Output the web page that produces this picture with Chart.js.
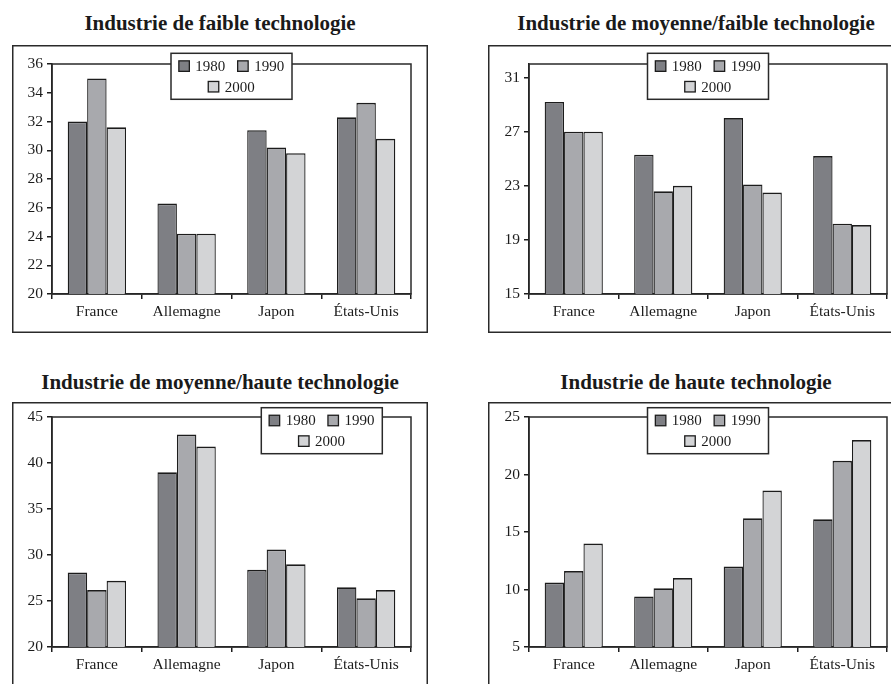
<!DOCTYPE html>
<html lang="fr">
<head>
<meta charset="utf-8">
<title>Industrie par niveau technologique</title>
<script src="https://cdn.jsdelivr.net/npm/chart.js@4.4.1/dist/chart.umd.min.js"></script>
<style>
  html, body { margin: 0; padding: 0; background: #fff; }
  body { width: 891px; height: 684px; overflow: hidden; position: relative; }
  .title {
    position: absolute; width: 416px; text-align: center;
    font-family: 'Liberation Serif', 'Times New Roman', serif;
    font-weight: bold; font-size: 21px; line-height: 24px; color: #1a1a1a;
    white-space: nowrap;
  }
  canvas { position: absolute; }
</style>
</head>
<body>
<div class="title" style="left:12px; top:11px;">Industrie de faible technologie</div>
<div class="title" style="left:488px; top:11px;">Industrie de moyenne/faible technologie</div>
<div class="title" style="left:12px; top:370px;">Industrie de moyenne/haute technologie</div>
<div class="title" style="left:488px; top:370px;">Industrie de haute technologie</div>

<canvas id="c1" width="416" height="288" style="left:12px; top:45px; width:416px; height:288px;"></canvas>
<canvas id="c2" width="416" height="288" style="left:488px; top:45px; width:416px; height:288px;"></canvas>
<canvas id="c3" width="416" height="300" style="left:12px; top:402px; width:416px; height:300px;"></canvas>
<canvas id="c4" width="416" height="300" style="left:488px; top:402px; width:416px; height:300px;"></canvas>

<script>
// Categories and series
const countries = ['France', 'Allemagne', 'Japon', 'États-Unis'];
const years = ['1980', '1990', '2000'];

// Industrie de faible technologie
const low1980 = [32.0, 26.3, 31.4, 32.3];
const low1990 = [35.0, 24.2, 30.2, 33.3];
const low2000 = [31.6, 24.2, 29.8, 30.8];
const lowTicks = [20, 22, 24, 26, 28, 30, 32, 34, 36];

// Industrie de moyenne/faible technologie
const medLow1980 = [29.2, 25.3, 28.0, 25.2];
const medLow1990 = [27.0, 22.6, 23.1, 20.2];
const medLow2000 = [27.0, 23.0, 22.5, 20.1];
const medLowTicks = [15, 19, 23, 27, 31];

// Industrie de moyenne/haute technologie
const medHigh1980 = [28.1, 39.0, 28.4, 26.5];
const medHigh1990 = [26.2, 43.1, 30.6, 25.3];
const medHigh2000 = [27.2, 41.8, 29.0, 26.2];
const medHighTicks = [20, 25, 30, 35, 40, 45];

// Industrie de haute technologie
const high1980 = [10.6, 9.4, 12.0, 16.1];
const high1990 = [11.6, 10.1, 16.2, 21.2];
const high2000 = [14.0, 11.0, 18.6, 23.0];
const highTicks = [5, 10, 15, 20, 25];

const INK = '#1c1c1c';
const FILLS = ['#7e7f84', '#a8a9ad', '#d3d4d6'];
const FONT = "'Liberation Serif', 'Times New Roman', serif";

Chart.defaults.font.family = FONT;
Chart.defaults.font.size = 15.5;
Chart.defaults.color = INK;

// Outer frame, plot-area frame and the boxed legend
const framePlugin = {
  id: 'frames',
  beforeDraw(chart, args, opts) {
    const { ctx, width, height } = chart;
    ctx.save();
    ctx.fillStyle = '#fff';
    ctx.fillRect(0, 0, width, height);
    ctx.strokeStyle = '#2a2a2a';
    ctx.lineWidth = 1.5;
    ctx.strokeRect(0.75, 0.75, width - 1.5, height - 1.5);
    ctx.restore();
  },
  beforeDatasetsDraw(chart) {
    const { ctx, chartArea: a } = chart;
    ctx.save();
    ctx.strokeStyle = '#2a2a2a';
    ctx.lineWidth = 1.5;
    ctx.strokeRect(a.left, a.top, a.right - a.left, a.bottom - a.top);
    ctx.restore();
  },
  afterDraw(chart, args, opts) {
    const { ctx, chartArea: a } = chart;
    const sets = chart.data.datasets;
    const boxW = 121, boxH = 46, sw = 10.5, gap = 6, itemGap = 12.3;
    let left;
    if (opts.align === 'right') left = a.right - opts.inset - boxW;
    else left = (a.left + a.right) / 2 - boxW / 2;
    const top = a.top - opts.raise;
    ctx.save();
    ctx.fillStyle = '#fff';
    ctx.fillRect(left, top, boxW, boxH);
    ctx.strokeStyle = '#2a2a2a';
    ctx.lineWidth = 1.5;
    ctx.strokeRect(left, top, boxW, boxH);
    ctx.font = '15px ' + FONT;
    ctx.textBaseline = 'middle';
    const rows = [[0, 1], [2]];
    const rowY = [top + 12.8, top + 33.4];
    rows.forEach((row, r) => {
      const widths = row.map(i => sw + gap + ctx.measureText(sets[i].label).width);
      const total = widths.reduce((s, w) => s + w, 0) + itemGap * (row.length - 1);
      let x = left + (boxW - total) / 2;
      row.forEach((i, k) => {
        const y = rowY[r];
        ctx.fillStyle = sets[i].backgroundColor;
        ctx.fillRect(x, y - sw / 2, sw, sw);
        ctx.strokeStyle = INK;
        ctx.lineWidth = 1.3;
        ctx.strokeRect(x, y - sw / 2, sw, sw);
        ctx.fillStyle = INK;
        ctx.textAlign = 'left';
        ctx.fillText(sets[i].label, x + sw + gap, y + 1);
        x += widths[k] + itemGap;
      });
    });
    ctx.restore();
  }
};

function makeChart(id, series, ticks, min, max, geo) {
  const canvas = document.getElementById(id);
  return new Chart(canvas, {
    type: 'bar',
    data: {
      labels: countries,
      datasets: series.map((values, i) => ({
        label: years[i],
        data: values,
        backgroundColor: FILLS[i],
        borderColor: INK,
        borderWidth: { top: 1.7, left: 1.3, right: 1.3, bottom: 0 },
        borderSkipped: 'start',
        barPercentage: 1,
        categoryPercentage: 0.65
      }))
    },
    options: {
      responsive: false,
      animation: false,
      devicePixelRatio: 1,
      layout: { padding: { left: 0, top: geo.top, right: geo.right, bottom: 0 } },
      plugins: {
        legend: { display: false },
        tooltip: { enabled: false },
        frames: { align: geo.legendAlign, inset: geo.legendInset || 0, raise: geo.legendRaise }
      },
      scales: {
        x: {
          offset: true,
          grid: {
            offset: true, drawOnChartArea: false, drawTicks: true,
            tickLength: 5, color: INK, lineWidth: 1.5
          },
          border: { display: true, color: INK, width: 1.5 },
          ticks: { padding: 4, maxRotation: 0, font: { size: 15.5 } },
          afterFit(scale) { scale.height = geo.xHeight; }
        },
        y: {
          min: min, max: max,
          grid: {
            drawOnChartArea: false, drawTicks: true,
            tickLength: 5, color: INK, lineWidth: 1.5
          },
          border: { display: true, color: INK, width: 1.5 },
          ticks: { padding: 4, font: { size: 15.5 } },
          afterBuildTicks(scale) { scale.ticks = ticks.map(v => ({ value: v })); },
          afterFit(scale) { scale.width = geo.yWidth; }
        }
      }
    },
    plugins: [framePlugin]
  });
}

makeChart('c1', [low1980, low1990, low2000], lowTicks, 20, 36,
  { top: 19, right: 17, yWidth: 40, xHeight: 39, legendAlign: 'center', legendRaise: 10.7 });
makeChart('c2', [medLow1980, medLow1990, medLow2000], medLowTicks, 15, 32,
  { top: 19, right: 17, yWidth: 41, xHeight: 39, legendAlign: 'center', legendRaise: 10.7 });
makeChart('c3', [medHigh1980, medHigh1990, medHigh2000], medHighTicks, 20, 45,
  { top: 15, right: 17, yWidth: 40, xHeight: 55, legendAlign: 'right', legendInset: 28.7, legendRaise: 9.3 });
makeChart('c4', [high1980, high1990, high2000], highTicks, 5, 25,
  { top: 15, right: 17, yWidth: 41, xHeight: 55, legendAlign: 'center', legendRaise: 9.3 });
</script>
</body>
</html>
